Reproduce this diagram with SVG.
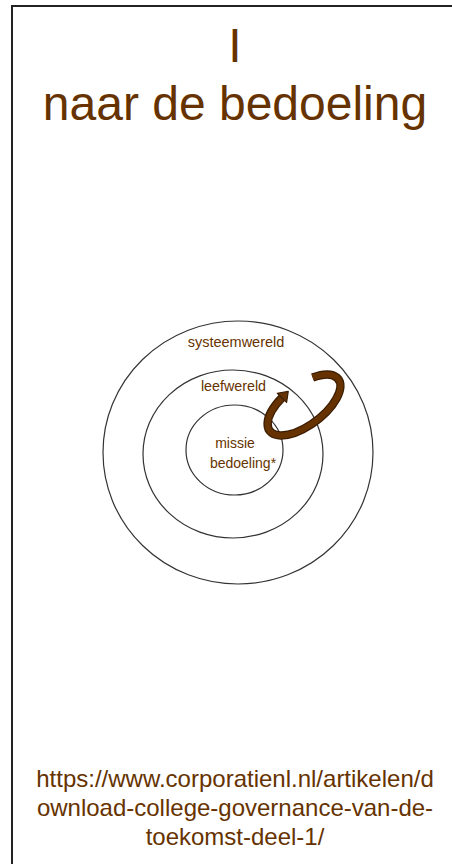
<svg xmlns="http://www.w3.org/2000/svg" width="452" height="864" viewBox="0 0 452 864">
<style>
.t{font-family:"Liberation Sans",Arial,sans-serif;fill:#663300;text-anchor:middle}
.ring{fill:none;stroke:#333;stroke-width:1.2}
</style>
<rect x="0" y="0" width="452" height="864" fill="#fff"/>
<rect id="frame" x="12" y="6" width="470" height="900" fill="none" stroke="#222" stroke-width="2"/>
<g id="title">
<text class="t" x="235" y="62" font-size="48">I</text>
<text class="t" x="235" y="120" font-size="48">naar de bedoeling</text>
</g>
<g id="systeemwereld">
<ellipse class="ring" cx="238" cy="452.5" rx="135" ry="131.5"/>
<text class="t" x="236" y="347" font-size="14.5">systeemwereld</text>
</g>
<g id="leefwereld">
<ellipse class="ring" cx="233" cy="454" rx="90" ry="84"/>
<text class="t" x="233.5" y="391" font-size="14.3">leefwereld</text>
</g>
<g id="missie">
<ellipse class="ring" cx="234.5" cy="450" rx="48.5" ry="45"/>
<text class="t" x="235" y="448" font-size="14">missie</text>
<text class="t" x="243" y="468" font-size="14">bedoeling*</text>
</g>
<g id="connectors" transform="translate(304,405) rotate(-37)">
<path d="M23.42 -16.77 A43 20 0 1 1 -13.29 -19.02" fill="none" stroke="#3a1c00" stroke-width="8.5"/>
<path d="M23.42 -16.77 A43 20 0 1 1 -13.29 -19.02" fill="none" stroke="#663300" stroke-width="6"/>
<polygon points="-12.32,-12.59 -14.26,-25.45 -4.39,-20.36" fill="#663300" stroke="#3a1c00" stroke-width="1.2" stroke-linejoin="round"/>
</g>
<g id="source">
<text class="t" x="235" y="787" font-size="24">https://www.corporatienl.nl/artikelen/d</text>
<text class="t" x="235" y="816" font-size="24">ownload-college-governance-van-de-</text>
<text class="t" x="235" y="845" font-size="24">toekomst-deel-1/</text>
</g>
</svg>
